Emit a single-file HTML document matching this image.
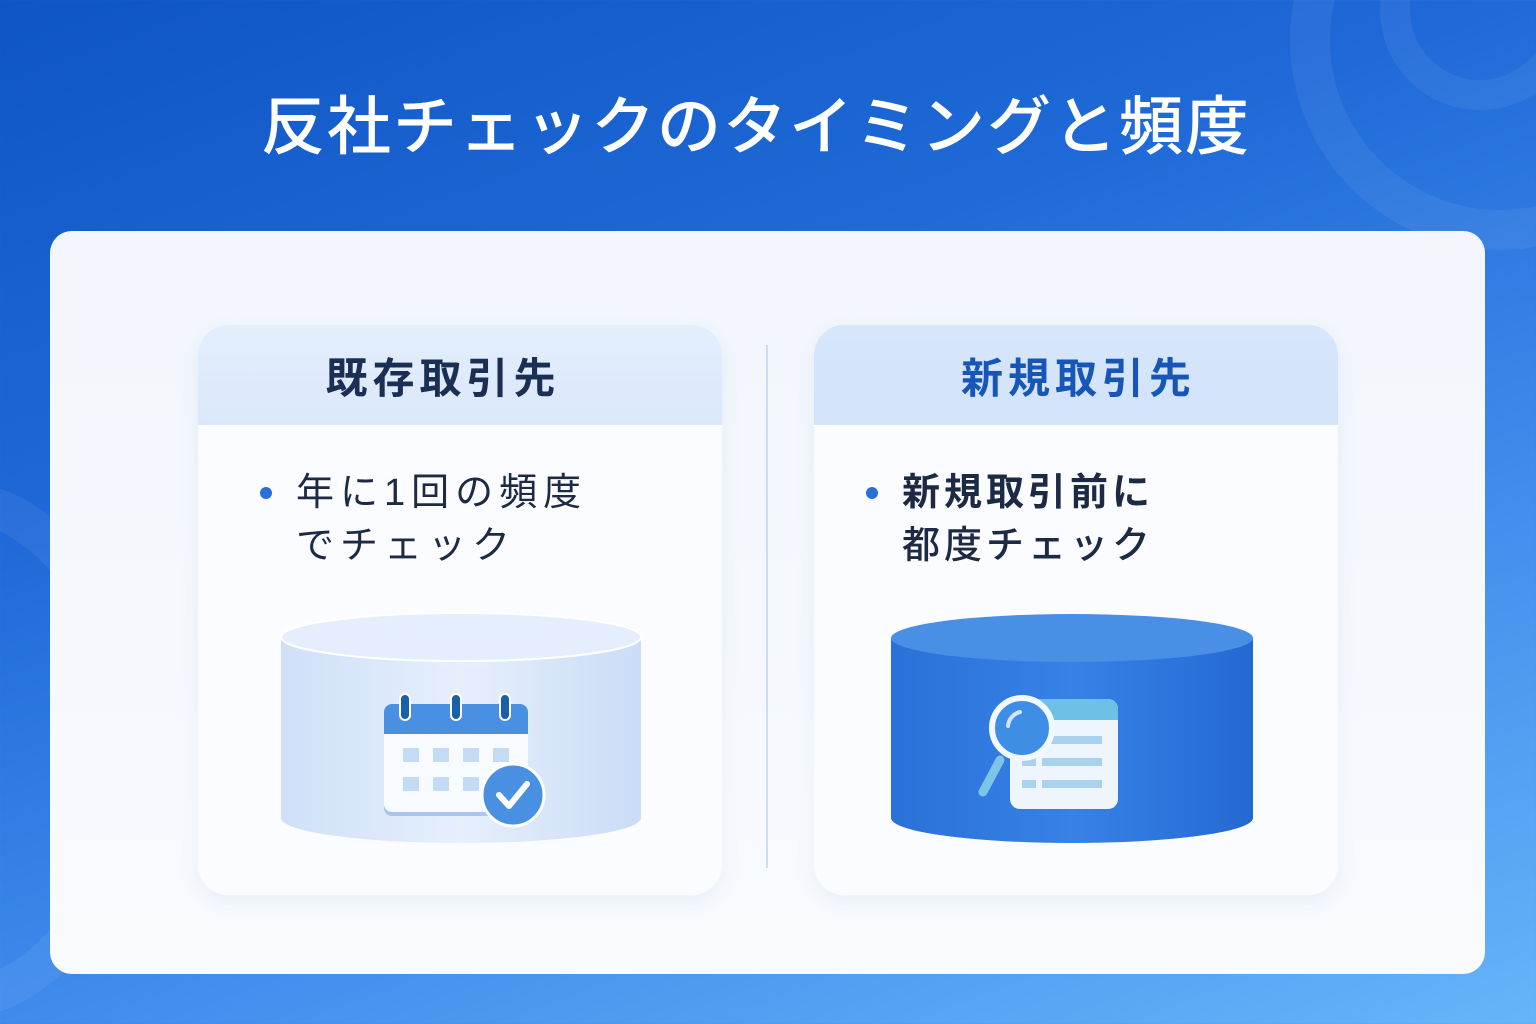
<!DOCTYPE html>
<html><head><meta charset="utf-8"><style>
*{margin:0;padding:0;box-sizing:border-box}
html,body{width:1536px;height:1024px;overflow:hidden}
body{position:relative;font-family:"Liberation Sans","Noto Sans CJK JP",sans-serif;
background:linear-gradient(160deg,#0f55c4 0%,#1f6ad8 35%,#3f8cec 65%,#66b4f8 100%)}
.circ{position:absolute;border-radius:50%;border:40px solid rgba(255,255,255,0.06)}
h1{position:absolute;top:76px;left:-12px;width:1536px;text-align:center;color:#fff;font-size:64px;font-weight:500;letter-spacing:2px}
.card{position:absolute;left:50px;top:231px;width:1435px;height:743px;border-radius:22px;background:linear-gradient(180deg,#f2f6fc,#f8fafe)}
.panel{position:absolute;top:325px;width:524px;height:570px;border-radius:30px;background:#fbfcff;overflow:hidden;box-shadow:0 6px 20px rgba(60,110,190,0.08)}
.hd{height:100px;display:flex;align-items:center;justify-content:center;font-size:42px;font-weight:700;letter-spacing:5px;padding-left:5px}
.txt{position:absolute;top:142px;font-size:38px;line-height:53px;color:#1d2a44;letter-spacing:6px;white-space:nowrap}
.dot{position:absolute;width:12px;height:12px;border-radius:50%;background:#2a6fd6;top:162px}
.div{position:absolute;left:766px;top:345px;width:2px;height:523px;background:#cfdcee}
</style></head><body>
<div class="circ" style="left:1290px;top:-170px;width:420px;height:420px"></div>
<div class="circ" style="left:1380px;top:-90px;width:200px;height:200px;border-width:30px"></div>
<div class="circ" style="left:-250px;top:480px;width:400px;height:540px"></div>
<h1>反社チェックのタイミングと頻度</h1>
<div class="card"></div>
<div class="div"></div>
<div class="panel" style="left:198px">
 <div class="hd" style="background:linear-gradient(180deg,#e3eefc,#dbe8fb);color:#1b2f55;padding-left:0;padding-right:34px">既存取引先</div>
 <div class="dot" style="left:62px"></div>
 <div class="txt" style="left:98px">年に1回の頻度<br>でチェック</div>
</div>
<div class="panel" style="left:814px">
 <div class="hd" style="background:linear-gradient(180deg,#d6e6fb,#d2e3fa);color:#1556b8">新規取引先</div>
 <div class="dot" style="left:52px"></div>
 <div class="txt" style="left:88px;font-weight:700;letter-spacing:4px">新規取引前に<br><span style="font-weight:500">都度チェック</span></div>
</div>
<svg width="1536" height="1024" style="position:absolute;left:0;top:0">
<defs>
<linearGradient id="lc" x1="0" x2="1"><stop offset="0" stop-color="#cfe0f8"/><stop offset="0.5" stop-color="#e6effc"/><stop offset="1" stop-color="#cadcf6"/></linearGradient>
<linearGradient id="rc" x1="0" x2="1"><stop offset="0" stop-color="#2a70d8"/><stop offset="0.5" stop-color="#3782e6"/><stop offset="1" stop-color="#2469d2"/></linearGradient>
</defs>
<path d="M281 637 V818 A180 25 0 0 0 641 818 V637 Z" fill="url(#lc)"/>
<ellipse cx="461" cy="637" rx="180" ry="24" fill="#e4eefc" stroke="#fff" stroke-width="2"/>
<path d="M891 638 V818 A181 25 0 0 0 1253 818 V638 Z" fill="url(#rc)"/>
<ellipse cx="1072" cy="638" rx="181" ry="24" fill="#4a8fe6"/>
<rect x="384" y="706" width="144" height="110" rx="8" fill="#a9c6ee"/>
<rect x="384" y="704" width="144" height="108" rx="8" fill="#f7faff"/>
<path d="M392 704 H520 A8 8 0 0 1 528 712 V734 H384 V712 A8 8 0 0 1 392 704Z" fill="#4a90e2"/>
<g fill="#1b5fa8" stroke="#fff" stroke-width="2"><rect x="400" y="694" width="10" height="26" rx="5"/><rect x="451" y="694" width="10" height="26" rx="5"/><rect x="500" y="694" width="10" height="26" rx="5"/></g>
<g fill="#c4dbf6"><rect x="403" y="748" width="16" height="14"/><rect x="433" y="748" width="16" height="14"/><rect x="463" y="748" width="16" height="14"/><rect x="493" y="748" width="16" height="14"/><rect x="403" y="777" width="16" height="14"/><rect x="433" y="777" width="16" height="14"/><rect x="463" y="777" width="16" height="14"/></g>
<circle cx="513" cy="795" r="31" fill="#4a90e2" stroke="#fff" stroke-width="3"/>
<path d="M499 795 L509 806 L527 784" fill="none" stroke="#fff" stroke-width="6" stroke-linecap="round" stroke-linejoin="round"/>
<rect x="1010" y="699" width="108" height="110" rx="10" fill="#eef5fd"/>
<path d="M1020 699 H1108 A10 10 0 0 1 1118 709 V720 H1010 V709 A10 10 0 0 1 1020 699Z" fill="#6fc0e6"/>
<g fill="#a8d2ee"><rect x="1022" y="736" width="14" height="8"/><rect x="1042" y="736" width="60" height="8"/><rect x="1022" y="758" width="14" height="8"/><rect x="1042" y="758" width="60" height="8"/><rect x="1022" y="780" width="14" height="8"/><rect x="1042" y="780" width="60" height="8"/></g>
<line x1="1000" y1="760" x2="983" y2="792" stroke="#7cc4e8" stroke-width="9" stroke-linecap="round"/>
<circle cx="1022" cy="728" r="30" fill="#3f8ee6" stroke="#f2f8ff" stroke-width="6"/>
<path d="M1008 726 A16 16 0 0 1 1020 712" fill="none" stroke="#cfe6fb" stroke-width="4" stroke-linecap="round"/>
</svg>
</body></html>
